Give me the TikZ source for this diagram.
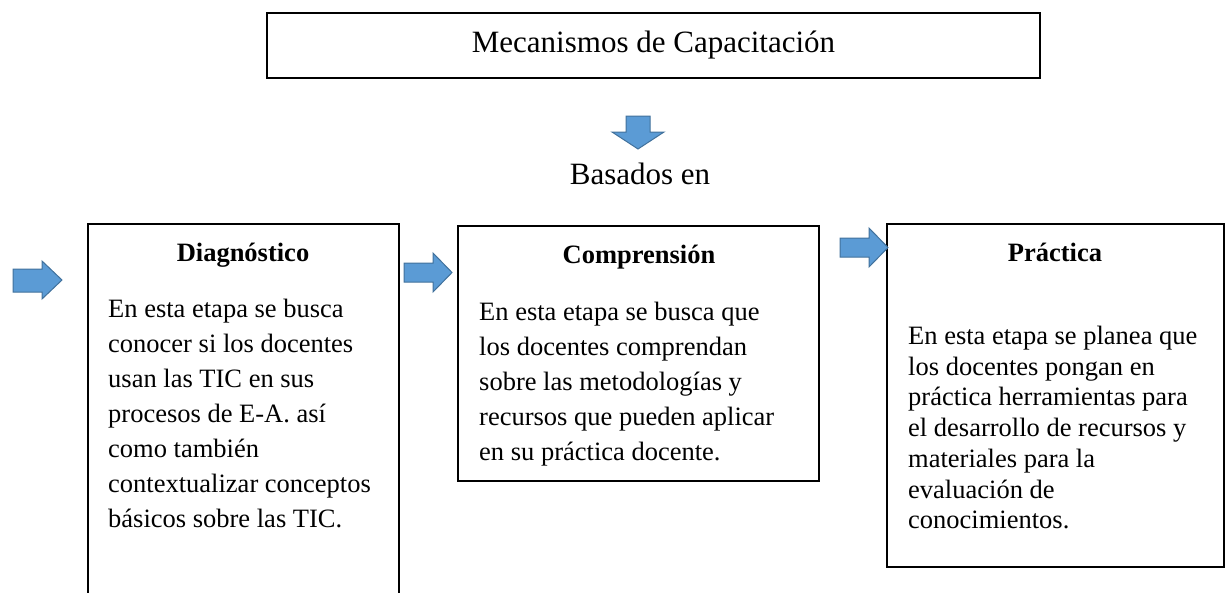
\documentclass[tikz,border=0pt]{standalone}
\usepackage{fontspec}
\setmainfont{Liberation Serif}
\definecolor{arrfill}{HTML}{5B9BD5}
\definecolor{arrline}{HTML}{41719C}
\tikzset{bx/.append style={draw,line width=1.6pt,inner sep=0pt}}
\tikzset{hd/.append style={font=\fontsize{26.5}{32}\selectfont\bfseries,inner sep=0pt,anchor=base}}
\tikzset{tx/.append style={font=\fontsize{26.5}{35}\selectfont,inner sep=0pt,anchor=north west,align=left}}
\tikzset{ar/.append style={fill=arrfill,draw=arrline,line width=1pt,line join=miter}}

\begin{document}
\begin{tikzpicture}[x=1pt,y=-1pt]
                \useasboundingbox (0,0) rectangle (1230,592);
                \clip (0,0) rectangle (1230,592);
                % top box
                \node[bx,line width=2pt,minimum width=773pt,minimum height=65pt,font=\fontsize{31}{36}\selectfont] (mec) at (653.5,45.5) {Mecanismos de Capacitaci\'on};
                \draw[ar] (626,116) -- (650,116) -- (650,132) -- (664,132) -- (638,149) -- (612,132) -- (626,132) -- cycle;
                \node[font=\fontsize{31}{36}\selectfont,inner sep=0pt,anchor=base] (bas) at (640,184) {Basados en};
                % stages
                \node[bx,minimum width=311pt,minimum height=396pt] (diag) at (243.5,422) {};
                \node[bx,minimum width=361pt,minimum height=255pt] (comp) at (638.5,353.5) {};
                \node[bx,minimum width=337pt,minimum height=343pt] (prac) at (1055.5,395.5) {};
                \node[hd] (diagT) at (243,261) {Diagn\'ostico};
                \node[hd] (compT) at (639,263) {Comprensi\'on};
                \node[hd] (pracT) at (1055,261) {Pr\'actica};
                \node[tx] (diagB) at (108,299) {En esta etapa se busca\\conocer si los docentes\\usan las TIC en sus\\procesos de E-A. as\'i\\como tambi\'en\\contextualizar conceptos\\b\'asicos sobre las TIC.};
                \node[tx] (compB) at (479,302) {En esta etapa se busca que\\los docentes comprendan\\sobre las metodolog\'ias y\\recursos que pueden aplicar\\en su pr\'actica docente.};
                \node[tx,font=\fontsize{26.5}{30.7}\selectfont] (pracB) at (908,326) {En esta etapa se planea que\\los docentes pongan en\\pr\'actica herramientas para\\el desarrollo de recursos y\\materiales para la\\evaluaci\'on de\\conocimientos.};
                % arrows
                \draw[ar] (13,269) -- (42,269) -- (42,261) -- (62,280) -- (42,299) -- (42,292) -- (13,292) -- cycle;
                \draw[ar] (404,263) -- (433,263) -- (433,253) -- (452,272.5) -- (433,292) -- (433,282) -- (404,282) -- cycle;
                \draw[ar] (840,238) -- (869,238) -- (869,228) -- (888,247.5) -- (869,267) -- (869,257) -- (840,257) -- cycle;
\end{tikzpicture}
\end{document}
